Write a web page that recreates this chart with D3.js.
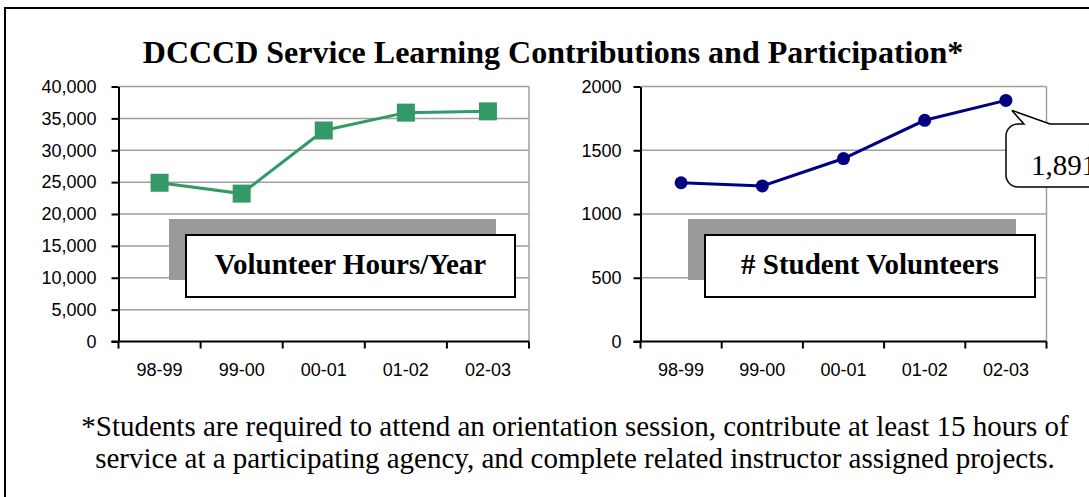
<!DOCTYPE html>
<html>
<head>
<meta charset="utf-8">
<script src="https://cdn.jsdelivr.net/npm/d3@7"></script>
<style>
  body { margin: 0; background: #fff; }
  svg { display: block; }
  .tick text { font-family: "Liberation Sans", Arial, sans-serif; font-size: 18px; fill: #000; }
</style>
</head>
<body>
<div id="holder"></div>
<script>
// data
var years = ["98-99", "99-00", "00-01", "01-02", "02-03"];
var hours = [24900, 23200, 33100, 35900, 36100];
var students = [1245, 1220, 1435, 1735, 1891];
var hoursTicks = [0, 5000, 10000, 15000, 20000, 25000, 30000, 35000, 40000];
var studentTicks = [0, 500, 1000, 1500, 2000];
var calloutLabel = "1,891";

var SERIF = "'Liberation Serif', 'Times New Roman', serif";
var WIDTH = 1089, HEIGHT = 497;
var svg = d3.select("#holder").append("svg")
    .attr("width", WIDTH)
    .attr("height", HEIGHT);

// outer frame
svg.append("rect")
    .attr("x", 5).attr("y", 8)
    .attr("width", 1120).attr("height", 520)
    .attr("fill", "none")
    .attr("stroke", "#000")
    .attr("stroke-width", 2);

svg.append("text")
    .attr("x", 553).attr("y", 63)
    .attr("text-anchor", "middle")
    .attr("font-family", SERIF)
    .attr("font-weight", "bold")
    .attr("font-size", 32)
    .text("DCCCD Service Learning Contributions and Participation*");

function panel(opts) {
  var x = d3.scaleBand().domain(years).range([opts.left, opts.right]);
  var y = d3.scaleLinear().domain([0, opts.max]).range([341.5, 86.5]);
  var g = svg.append("g");

  // gridlines
  g.selectAll(".grid")
    .data(opts.ticks.filter(function(d) { return d > 0; }))
    .enter().append("line")
      .attr("x1", opts.left).attr("x2", opts.right)
      .attr("y1", function(d) { return y(d); })
      .attr("y2", function(d) { return y(d); })
      .attr("stroke", "#a0a0a0")
      .attr("stroke-width", 1.5);
  g.append("line")
      .attr("x1", opts.right).attr("x2", opts.right)
      .attr("y1", y(opts.max)).attr("y2", y(0))
      .attr("stroke", "#a0a0a0")
      .attr("stroke-width", 1.5);

  // y axis
  var ya = g.append("g")
      .attr("transform", "translate(" + opts.left + ",0)")
      .call(d3.axisLeft(y).tickValues(opts.ticks).tickFormat(opts.fmt)
        .tickSize(7).tickSizeOuter(0).tickPadding(opts.pad));
  ya.selectAll("line, path").attr("stroke", "#000").attr("stroke-width", 2);

  // x axis: labels at centres, ticks at band edges
  var xa = g.append("g")
      .attr("transform", "translate(0,341.5)")
      .call(d3.axisBottom(x).tickSize(0).tickSizeOuter(0).tickPadding(22));
  xa.select(".domain").attr("stroke", "#000").attr("stroke-width", 2)
      .attr("d", "M" + (opts.left - 7) + ",0H" + opts.right);
  var edges = years.map(function(d) { return x(d); }).concat([opts.right]);
  xa.selectAll(".edge")
    .data(edges)
    .enter().append("line")
      .attr("x1", function(d) { return d; }).attr("x2", function(d) { return d; })
      .attr("y1", 0).attr("y2", 7)
      .attr("stroke", "#000").attr("stroke-width", 2);

  // line
  var cx = function(d, i) { return x(years[i]) + x.bandwidth() / 2; };
  g.append("path")
      .datum(opts.values)
      .attr("fill", "none")
      .attr("stroke", opts.color)
      .attr("stroke-width", 3)
      .attr("d", d3.line().x(cx).y(function(d) { return y(d); }));

  if (opts.marker === "square") {
    g.selectAll(".pt").data(opts.values).enter().append("rect")
        .attr("x", function(d, i) { return cx(d, i) - 9; })
        .attr("y", function(d) { return y(d) - 9; })
        .attr("width", 18).attr("height", 18)
        .attr("fill", opts.color);
  } else {
    g.selectAll(".pt").data(opts.values).enter().append("circle")
        .attr("cx", cx)
        .attr("cy", function(d) { return y(d); })
        .attr("r", 6.5)
        .attr("fill", opts.color);
  }

  // label box with shadow
  var b = opts.box;
  g.append("rect")
      .attr("x", b[0] - 17).attr("y", b[1] - 16)
      .attr("width", b[2] - 2).attr("height", b[3] - 1)
      .attr("fill", "#999999");
  g.append("rect")
      .attr("x", b[0]).attr("y", b[1])
      .attr("width", b[2]).attr("height", b[3])
      .attr("fill", "#fff")
      .attr("stroke", "#000")
      .attr("stroke-width", 2);
  g.append("text")
      .attr("x", b[0] + b[2] / 2).attr("y", b[1] + 39)
      .attr("text-anchor", "middle")
      .attr("font-family", SERIF)
      .attr("font-weight", "bold")
      .attr("font-size", 29)
      .text(opts.title);

  return { x: x, y: y, cx: cx };
}

panel({
  left: 118.5, right: 529, max: 40000, ticks: hoursTicks, values: hours,
  fmt: d3.format(","), pad: 15, color: "#339966", marker: "square",
  box: [186, 235, 329, 62], title: "Volunteer Hours/Year"
});

var p2 = panel({
  left: 640.5, right: 1046.5, max: 2000, ticks: studentTicks, values: students,
  fmt: d3.format("d"), pad: 12, color: "#000080", marker: "circle",
  box: [705, 235, 330, 62], title: "# Student Volunteers"
});

// callout on the last point
var last = students.length - 1;
var tipX = p2.cx(students[last], last) + 6, tipY = p2.y(students[last]) + 10;
var bx = 1006, by = 124, bw = 130, bh = 63, r = 12;
var path = d3.path();
path.moveTo(bx + r, by);
path.lineTo(1024, by);
path.lineTo(tipX, tipY);
path.lineTo(1050, by);
path.lineTo(bx + bw - r, by);
path.arcTo(bx + bw, by, bx + bw, by + r, r);
path.lineTo(bx + bw, by + bh - r);
path.arcTo(bx + bw, by + bh, bx + bw - r, by + bh, r);
path.lineTo(bx + r, by + bh);
path.arcTo(bx, by + bh, bx, by + bh - r, r);
path.lineTo(bx, by + r);
path.arcTo(bx, by, bx + r, by, r);
path.closePath();
svg.append("path")
    .attr("d", path.toString())
    .attr("fill", "#fff")
    .attr("stroke", "#000")
    .attr("stroke-width", 1.5);
svg.append("text")
    .attr("x", 1031).attr("y", 175)
    .attr("font-family", SERIF)
    .attr("font-size", 29)
    .text(calloutLabel);

// footnote
var foot = [
  "*Students are required to attend an orientation session, contribute at least 15 hours of",
  "service at a participating agency, and complete related instructor assigned projects."
];
svg.selectAll(".foot").data(foot).enter().append("text")
    .attr("x", 575)
    .attr("y", function(d, i) { return 436 + i * 32; })
    .attr("text-anchor", "middle")
    .attr("font-family", SERIF)
    .attr("font-size", 29)
    .text(function(d) { return d; });
</script>
</body>
</html>
